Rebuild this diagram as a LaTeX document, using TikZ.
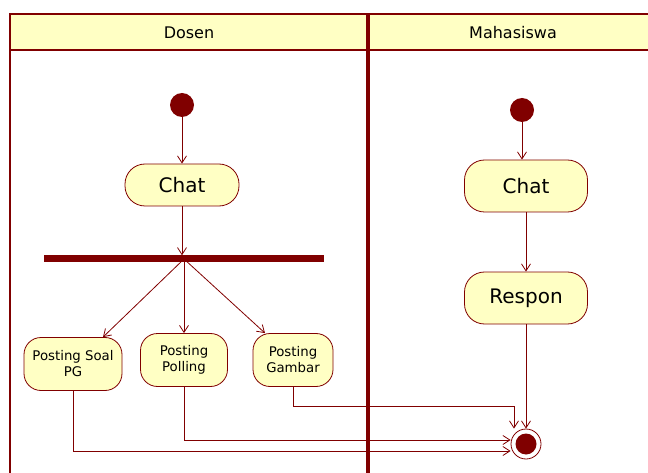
\documentclass[tikz,border=0pt]{standalone}
\usepackage{fontspec}
\setmainfont{DejaVu Sans}
\usetikzlibrary{arrows.meta,calc}
\definecolor{mar}{HTML}{800000}
\definecolor{lyel}{HTML}{FFFFC4}
\tikzset{
  act/.style={draw=mar,fill=lyel,line width=0.8pt,rounded corners=17pt,align=center,inner sep=0pt},
  bigact/.style={act,font=\fontsize{20}{22}\selectfont,minimum height=46pt,rounded corners=20pt},
  smallact/.style={act,font=\fontsize{13.3}{16}\selectfont,minimum height=53pt},
  init/.style={circle,fill=mar,inner sep=0pt,minimum size=24pt},
  flow/.style={draw=mar,line width=0.8pt,-{Straight Barb[length=7pt,width=9pt]}},
  lane/.style={draw=mar,line width=2pt},
}
\begin{document}
\begin{tikzpicture}[x=1pt,y=-1pt]
\useasboundingbox (0,0) rectangle (648,473);
% swimlanes
\fill[lyel] (10,14) rectangle (648,50);
\draw[lane] (648,14) -- (10,14) -- (10,473);
\draw[lane] (10,50) -- (648,50);
\draw[draw=mar,line width=3.5pt] (368,14) -- (368,473);
\node[font=\fontsize{16}{18}\selectfont] (hd) at (189,33) {Dosen};
\node[font=\fontsize{16}{18}\selectfont] (hm) at (513,33) {Mahasiswa};
% Dosen
\node[init] (i1) at (182,105) {};
\node[bigact,minimum width=114pt,minimum height=42pt] (c1) at (182,185) {Chat};
\node[fill=mar,minimum width=280pt,minimum height=7pt,inner sep=0pt] (fork) at (184,259) {};
\node[smallact,minimum width=98pt] (soal) at (73,364) {Posting Soal\\PG};
\node[smallact,minimum width=87pt] (pol) at (184,360) {Posting\\Polling};
\node[smallact,minimum width=80pt] (gam) at (293,360) {Posting\\Gambar};
% Mahasiswa
\node[init] (i2) at (522,110) {};
\node[bigact,minimum width=123pt,minimum height=52pt] (c2) at (526,186) {Chat};
\node[bigact,minimum width=123pt,minimum height=52pt] (resp) at (526,298) {Respon};
\node[circle,draw=mar,fill=white,line width=0.8pt,minimum size=30pt,inner sep=0pt] (fin) at (526,444) {};
\fill[mar] (fin.center) circle (10.5);
% flows
\draw[flow] (i1) -- (c1.north -| i1);
\draw[flow] (c1.south) -- (fork.north -| c1.south);
\draw[flow] (fork.center) -- ($(soal.north)+(30,0)$);
\draw[flow] (fork.center) -- (pol.north);
\draw[flow] (fork.center) -- ($(gam.north)+(-28,0)$);
\draw[flow] (i2) -- (c2.north -| i2);
\draw[flow] (c2.south) -- (resp.north);
\coordinate (g1) at (514,406);
\draw[flow] (gam.south) |- (g1) -- (g1 |- fin.north);
\draw[flow] (resp.south) -- (fin.north);
\draw[flow] (pol.south) |- ($(fin.west)+(0,-4)$);
\draw[flow] (soal.south) |- ($(fin.west)+(0,7)$);
\end{tikzpicture}
\end{document}
